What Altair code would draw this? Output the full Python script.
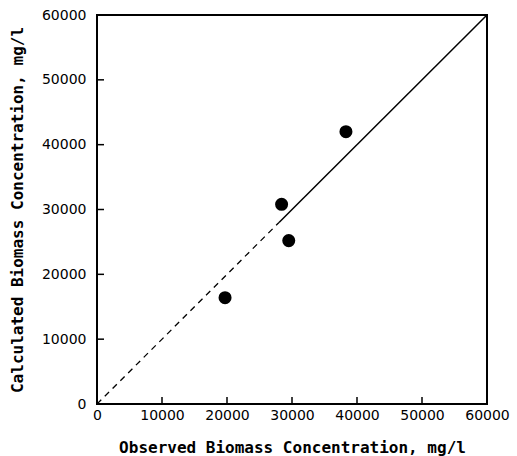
import altair as alt
import pandas as pd

# Observed vs calculated biomass (mg/l)
observed = [19700, 28400, 29500, 38300]
calculated = [16400, 30800, 25200, 42000]

# 1:1 line pieces (dashed lower part, solid upper part)
line_dashed_x = [0, 28000]
line_solid_x = [28000, 60000]

tick_values = [10000, 20000, 30000, 40000, 50000]
axis_values = [0, 10000, 20000, 30000, 40000, 50000, 60000]

pts = pd.DataFrame({"obs": observed, "calc": calculated})
dashed = pd.DataFrame({"obs": line_dashed_x, "calc": line_dashed_x})
solid = pd.DataFrame({"obs": line_solid_x, "calc": line_solid_x})
ticks = pd.DataFrame({"v": tick_values})

W, H = 390, 389
TF = "DejaVu Sans Mono"
LF = "DejaVu Sans"

xs = alt.Scale(domain=[0, 60000], nice=False)
ys = alt.Scale(domain=[0, 60000], nice=False)

xaxis = alt.Axis(values=axis_values, title="Observed Biomass Concentration, mg/l", format="d",
                 tickSize=0, domain=False, grid=False, labelPadding=4,
                 labelFont=LF, labelFontSize=14, labelFontWeight="normal", labelColor="black",
                 titleFont=TF, titleFontSize=16, titleFontWeight=600, titleColor="black",
                 titlePadding=17, labelFlush=False, labelOverlap=False)
yaxis = alt.Axis(values=axis_values, title="Calculated Biomass Concentration, mg/l", format="d",
                 tickSize=0, domain=False, grid=False, labelPadding=11,
                 labelFont=LF, labelFontSize=14, labelFontWeight="normal", labelColor="black",
                 titleFont=TF, titleFontSize=16, titleFontWeight=600, titleColor="black",
                 titlePadding=16, labelFlush=False, labelOverlap=False)

base_x = alt.X("obs:Q", scale=xs, axis=xaxis)
base_y = alt.Y("calc:Q", scale=ys, axis=yaxis)

line_lo = alt.Chart(dashed).mark_line(color="black", strokeWidth=1.3, strokeDash=[6, 5]).encode(
    x=base_x, y=base_y)
line_hi = alt.Chart(solid).mark_line(color="black", strokeWidth=1.5).encode(
    x=alt.X("obs:Q", scale=xs), y=alt.Y("calc:Q", scale=ys))

points = alt.Chart(pts).mark_circle(color="black", opacity=1, size=170).encode(
    x=alt.X("obs:Q", scale=xs), y=alt.Y("calc:Q", scale=ys))

xticks = alt.Chart(ticks).mark_rule(color="black", strokeWidth=1.5).encode(
    x=alt.X("v:Q", scale=xs), y=alt.value(H), y2=alt.value(H - 7))
yticks = alt.Chart(ticks).mark_rule(color="black", strokeWidth=1.5).encode(
    y=alt.Y("v:Q", scale=ys), x=alt.value(0), x2=alt.value(7))

chart = alt.layer(line_lo, line_hi, xticks, yticks, points).properties(
    width=W, height=H,
    autosize=alt.AutoSizeParams(type="none"),
    padding={"left": 97, "top": 15, "right": 30, "bottom": 52},
    background="white",
).configure_view(stroke="black", strokeWidth=2)

chart.save("out.html", embed_options={"renderer": "svg", "actions": False})
